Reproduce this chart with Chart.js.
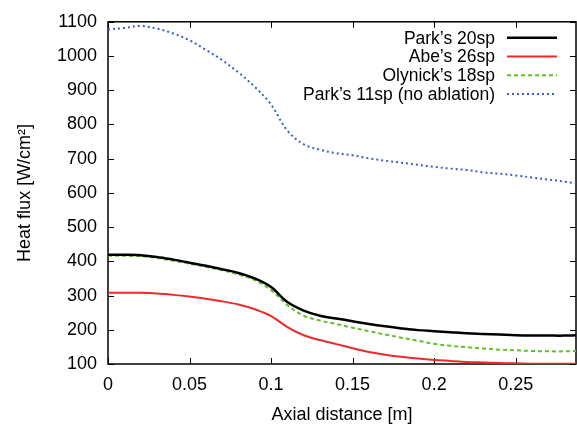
<!DOCTYPE html>
<html>
<head>
<meta charset="utf-8">
<script src="https://cdn.jsdelivr.net/npm/chart.js@4.4.0/dist/chart.umd.min.js"></script>
<style>
  html, body { margin: 0; padding: 0; background: #fff; }
  #wrap { width: 577px; height: 426px; }
</style>
</head>
<body>
<div id="wrap"><canvas id="fluxChart" width="577" height="426"></canvas></div>
<script>
// Axial distance [m] shared by all curves
const axialDistance = [0, 0.01, 0.02, 0.03, 0.04, 0.05, 0.06, 0.07, 0.08, 0.09, 0.1, 0.11, 0.12, 0.13, 0.14, 0.15, 0.16, 0.17, 0.18, 0.19, 0.2, 0.21, 0.22, 0.23, 0.24, 0.25, 0.26, 0.27, 0.28, 0.287];

// Heat flux [W/cm2]
const park20sp = [419, 419, 418, 413, 405, 396, 387, 377, 366, 350, 325, 281, 256, 241, 233, 225, 217, 210, 204, 199, 196, 193, 190, 188, 186, 184, 183, 183, 183, 184];
const abe26sp = [308, 308, 308, 306, 302, 297, 291, 283, 274, 260, 240, 208, 184, 170, 158, 146, 135, 127, 121, 116, 112, 109, 106, 104.5, 103, 102, 101, 100.5, 100.5, 100.5];
const olynick18sp = [416, 416, 415, 410, 402, 393, 384, 374, 362, 345, 316, 272, 241, 227, 217, 206, 196, 186, 177, 168, 159, 153, 149, 145.5, 142, 140, 138, 137, 137, 138];
const park11sp = [1078, 1082, 1088, 1080, 1066, 1046, 1018, 988, 952, 910, 858, 782, 742, 726, 716, 710, 701, 694, 688, 682, 676, 671, 667, 660, 656, 651, 645, 639, 633, 627];

const seriesLabels = ['Park\u2019s 20sp', 'Abe\u2019s 26sp', 'Olynick\u2019s 18sp', 'Park\u2019s 11sp (no ablation)'];

const xTickStep = 0.05;
const yTickStep = 100;

const FONT = 'Liberation Sans, Arial, Helvetica, sans-serif';

function toPoints(values) {
    return values.map((v, i) => ({ x: axialDistance[i], y: v }));
}

// Frame with inward ticks on all four sides
const frameTicks = {
    id: 'frameTicks',
    beforeDatasetsDraw(chart) {
        const { ctx, chartArea: a, scales: { x, y } } = chart;
        ctx.save();
        ctx.strokeStyle = '#000';
        ctx.lineWidth = 1;
        ctx.beginPath();
        x.ticks.forEach(t => {
            const px = Math.round(x.getPixelForValue(t.value)) + 0.5;
            ctx.moveTo(px, a.bottom); ctx.lineTo(px, a.bottom - 6);
            ctx.moveTo(px, a.top); ctx.lineTo(px, a.top + 6);
        });
        y.ticks.forEach(t => {
            const py = Math.round(y.getPixelForValue(t.value)) + 0.5;
            ctx.moveTo(a.left, py); ctx.lineTo(a.left + 6, py);
            ctx.moveTo(a.right, py); ctx.lineTo(a.right - 6, py);
        });
        ctx.stroke();
        ctx.lineWidth = 1.5;
        ctx.strokeRect(a.left, a.top, a.right - a.left, a.bottom - a.top);
        ctx.restore();
    }
};

// gnuplot-style key: right-aligned text, line sample to the right
const keyBox = {
    id: 'keyBox',
    afterDraw(chart) {
        const { ctx, chartArea: a } = chart;
        ctx.save();
        ctx.font = '17.5px ' + FONT;
        ctx.textAlign = 'right';
        ctx.textBaseline = 'middle';
        chart.data.datasets.forEach((ds, i) => {
            const yy = a.top + 16 + i * 18.7;
            ctx.fillStyle = '#000';
            ctx.fillText(ds.label, a.right - 81, yy + 1);
            ctx.strokeStyle = ds.borderColor;
            ctx.lineWidth = ds.borderWidth;
            ctx.setLineDash(ds.borderDash || []);
            ctx.beginPath();
            ctx.moveTo(a.right - 69, yy);
            ctx.lineTo(a.right - 19, yy);
            ctx.stroke();
        });
        ctx.restore();
    }
};

const ctx = document.getElementById('fluxChart');
new Chart(ctx, {
    type: 'line',
    data: {
        datasets: [
            { label: seriesLabels[0], data: toPoints(park20sp), borderColor: '#000000', borderWidth: 2.5 },
            { label: seriesLabels[1], data: toPoints(abe26sp), borderColor: '#ee2a2a', borderWidth: 2 },
            { label: seriesLabels[2], data: toPoints(olynick18sp), borderColor: '#62c02c', borderWidth: 2, borderDash: [4, 3] },
            { label: seriesLabels[3], data: toPoints(park11sp), borderColor: '#3c5fc4', borderWidth: 2, borderDash: [2, 3] }
        ]
    },
    options: {
        responsive: false,
        animation: false,
        devicePixelRatio: 1,
        layout: { padding: { top: 16, right: 1, left: 0, bottom: 0 } },
        elements: {
            point: { radius: 0 },
            line: { tension: 0.35, fill: false }
        },
        plugins: {
            legend: { display: false },
            tooltip: { enabled: false }
        },
        scales: {
            x: {
                type: 'linear',
                min: 0,
                max: 0.287,
                grid: { display: false, drawTicks: false },
                border: { display: false },
                ticks: {
                    stepSize: xTickStep,
                    includeBounds: false,
                    maxRotation: 0,
                    padding: 10,
                    color: '#000',
                    font: { family: FONT, size: 18 },
                    callback: v => String(+v.toFixed(2))
                },
                title: {
                    display: true,
                    text: 'Axial distance [m]',
                    color: '#000',
                    font: { family: FONT, size: 18 },
                    padding: { top: 4, bottom: 0 }
                },
                afterFit: scale => { scale.height = 62; }
            },
            y: {
                min: 100,
                max: 1100,
                grid: { display: false, drawTicks: false },
                border: { display: false },
                ticks: {
                    stepSize: yTickStep,
                    includeBounds: false,
                    padding: 11,
                    color: '#000',
                    font: { family: FONT, size: 18 },
                    callback: v => String(v)
                },
                title: {
                    display: true,
                    text: 'Heat flux [W/cm\u00b2]',
                    color: '#000',
                    font: { family: FONT, size: 18 },
                    padding: { top: 14, bottom: 6 }
                },
                afterFit: scale => { scale.width = 108; }
            }
        }
    },
    plugins: [frameTicks, keyBox]
});
</script>
</body>
</html>
